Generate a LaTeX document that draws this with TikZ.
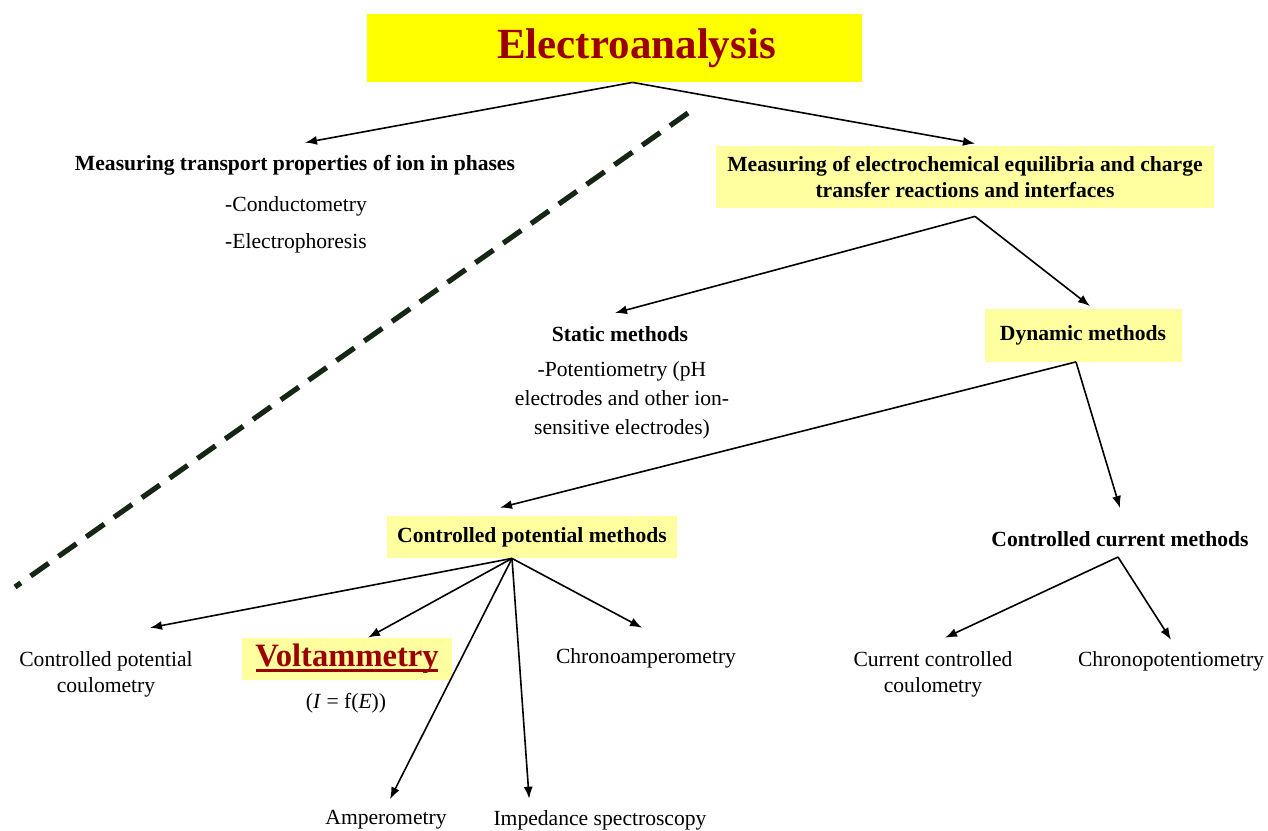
\documentclass[tikz,border=0pt]{standalone}
\usepackage{fontspec}
\setmainfont{Liberation Serif}
\usetikzlibrary{arrows.meta}

\definecolor{titleyellow}{RGB}{255,255,0}
\definecolor{paleyellow}{RGB}{255,255,160}
\definecolor{darkred}{RGB}{155,0,0}
\definecolor{dashgreen}{RGB}{22,38,22}

\tikzset{
    hd/.style={font=\fontsize{10.8}{13}\selectfont\bfseries, align=center, inner sep=3pt},
    txt/.style={font=\fontsize{10.8}{13}\selectfont, align=center, inner sep=3pt},
    hlbox/.style={fill=paleyellow, inner sep=0pt},
    arr/.style={-{Latex[length=6pt,width=4.5pt]}, line width=0.8pt},
}

\begin{document}
\begin{tikzpicture}[x=0.5pt,y=-0.5pt]
    \useasboundingbox (0,0) rectangle (1268,830);

    \node [fill=titleyellow, minimum width=247.5pt, minimum height=34pt, text=darkred,
        font=\fontsize{21.5}{26}\selectfont\bfseries] (EA) at (614.5,48) {\hspace*{22pt}Electroanalysis};

    \node [hd] (TP) at (295,165) {Measuring transport properties of ion in phases};
    \node [txt] (COND) at (296,206) {-Conductometry};
    \node [txt] (EPH) at (296,243) {-Electrophoresis};

    \node [hd, hlbox, minimum width=249pt, minimum height=31pt] (EQ) at (965,177)
        {Measuring of electrochemical equilibria and charge\\transfer reactions and interfaces};

    \node [hd] (ST) at (620,334) {Static methods};
    \node [txt, font=\fontsize{10.8}{14.5}\selectfont] (POT) at (622,400)
        {-Potentiometry (pH\\electrodes and other ion-\\sensitive electrodes)};
    \node [hd, hlbox, minimum width=98.5pt, minimum height=26.5pt] (DYN) at (1083,335) {Dynamic methods};

    \node [hd, hlbox, minimum width=145pt, minimum height=21pt] (CPM) at (532,537) {Controlled potential methods};
    \node [hd] (CCM) at (1120,539) {Controlled current methods};

    \node [txt] (CPC) at (106,674) {Controlled potential\\coulometry};
    \node [hlbox, minimum width=105pt, minimum height=21pt, text=darkred,
        font=\fontsize{16.3}{18}\selectfont\bfseries] (VOLT) at (347,659) {Voltammetry};
    \draw [darkred, line width=1.5pt] ([xshift=7pt,yshift=-2pt]VOLT.base west) -- ([xshift=-7pt,yshift=-2pt]VOLT.base east);
    \node [txt] (IFE) at (346,703) {(\textit{I} = f(\textit{E}))};
    \node [txt] (CHA) at (646,658) {Chronoamperometry};
    \node [txt] (AMP) at (386,820) {Amperometry};
    \node [txt] (IMP) at (600,820) {Impedance spectroscopy};
    \node [txt] (CCC) at (933,674) {Current controlled\\coulometry};
    \node [txt] (CPT) at (1171,661) {Chronopotentiometry};

    \draw [dashgreen, line width=2.6pt, dash pattern=on 11pt off 6pt] (688,113) -- (15,587);

    \coordinate (EAout) at ([xshift=9pt]EA.south);
    \draw [arr] (EAout) -- ([xshift=5pt,yshift=3pt]TP.north);
    \draw [arr] (EAout) -- ([xshift=5pt,yshift=1pt]EQ.north);

    \coordinate (EQout) at ([xshift=5pt,yshift=-4pt]EQ.south);
    \draw [arr] (EQout) -- ([xshift=-2.5pt,yshift=3.5pt]ST.north);
    \draw [arr] (EQout) -- ([xshift=3.5pt,yshift=1pt]DYN.north);

    \coordinate (DYNout) at ([xshift=-3.5pt]DYN.south);
    \draw [arr] (DYNout) -- ([xshift=-16pt,yshift=4pt]CPM.north);
    \draw [arr] (DYNout) -- ([yshift=8.5pt]CCM.north);

    \coordinate (CPMout) at ([xshift=-10pt]CPM.south);
    \draw [arr] (CPMout) -- ([xshift=22pt,yshift=8.5pt]CPC.north);
    \draw [arr] (CPMout) -- ([xshift=10.5pt]VOLT.north);
    \draw [arr] (CPMout) -- ([xshift=2pt,yshift=2.5pt]AMP.north);
    \draw [arr] (CPMout) -- ([xshift=21pt,yshift=2.5pt]IMP.north west);
    \draw [arr] (CPMout) -- ([xshift=-2pt,yshift=7pt]CHA.north);

    \coordinate (CCMout) at ([xshift=-1pt,yshift=-2pt]CCM.south);
    \draw [arr] (CCMout) -- ([xshift=6pt,yshift=3.5pt]CCC.north);
    \draw [arr] (CCMout) -- ([yshift=2.5pt]CPT.north);
\end{tikzpicture}
\end{document}
